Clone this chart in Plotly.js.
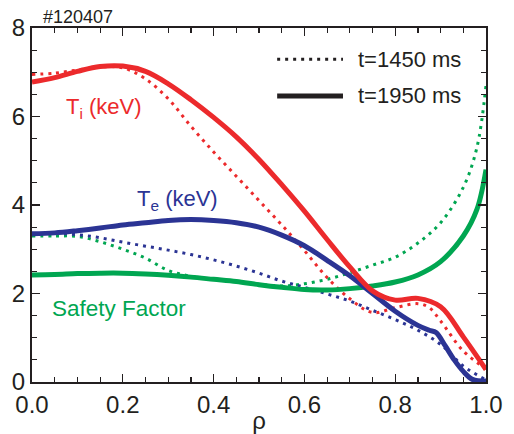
<!DOCTYPE html>
<html>
<head>
<meta charset="utf-8">
<script src="https://cdn.plot.ly/plotly-3.0.1.min.js"></script>
<style>html,body{margin:0;padding:0;background:#fff;}#chart{width:514px;height:434px;}</style>
</head>
<body>
<div id="chart"></div>
<script>
// rho grid and profiles
var rho = [0.00,0.05,0.10,0.15,0.20,0.25,0.30,0.35,0.40,0.45,0.50,0.55,0.60,0.65,0.70,0.75,0.80,0.85,0.90,0.95,1.00];

// Ti (keV)
var ti1950 = [6.78,6.88,7.02,7.13,7.14,7.02,6.74,6.38,5.98,5.54,5.03,4.46,3.86,3.22,2.6,2.06,1.85,1.89,1.7,1.02,0.28];
var tiRho1450 = [0.00,0.05,0.10,0.15,0.20,0.25,0.30,0.35,0.40,0.45,0.50,0.55,0.60,0.65,0.70,0.75,0.80,0.85,0.875,0.90,0.95,1.00];
var ti1450 = [6.95,6.98,7.05,7.12,7.1,6.85,6.4,5.78,5.2,4.65,4.1,3.55,2.97,2.36,1.88,1.57,1.68,1.77,1.68,1.38,0.7,0.3];

// Te (keV)
var teRho1950 = [0.00,0.05,0.10,0.15,0.20,0.25,0.30,0.35,0.40,0.45,0.50,0.55,0.60,0.65,0.70,0.75,0.80,0.85,0.875,0.89,0.91,0.93,0.95,0.97,1.00];
var te1950 = [3.35,3.37,3.42,3.48,3.55,3.6,3.65,3.67,3.65,3.6,3.5,3.32,3.08,2.75,2.4,2.0,1.6,1.28,1.17,1.12,0.82,0.5,0.24,0.06,0.02];
var te1450 = [3.35,3.36,3.33,3.26,3.16,3.07,2.98,2.88,2.76,2.62,2.46,2.28,2.14,1.99,1.83,1.62,1.41,1.17,0.85,0.36,0.05];

// Safety factor q
var qRho = [0.00,0.05,0.10,0.15,0.20,0.25,0.30,0.35,0.40,0.45,0.50,0.55,0.60,0.65,0.70,0.75,0.80,0.85,0.90,0.95,0.98,1.00];
var q1950 = [2.42,2.43,2.45,2.46,2.46,2.44,2.41,2.37,2.32,2.27,2.2,2.14,2.09,2.08,2.11,2.17,2.26,2.42,2.72,3.3,3.9,4.8];
var q1450 = [3.3,3.3,3.29,3.17,3.0,2.8,2.52,2.39,2.33,2.28,2.21,2.17,2.22,2.32,2.47,2.64,2.82,3.14,3.6,4.4,5.3,6.7];

var legendLabels = ["t=1450 ms", "t=1950 ms"];
var curveLabels = ["T<sub>i</sub> (keV)", "T<sub>e</sub> (keV)", "Safety Factor"];
var shotLabel = "#120407";

var RED = "#ec2a2c", BLUE = "#2b3494", GREEN = "#00a651", INK = "#231f20";
var DOT = "3px,5px";
var font = "Liberation Sans, Arial, Helvetica, sans-serif";

function tr(x, y, color, dotted) {
  return {x: x, y: y, type: "scatter", mode: "lines", showlegend: false, hoverinfo: "skip",
    line: {color: color, width: dotted ? 3 : 5, dash: dotted ? DOT : "solid", shape: "spline", smoothing: 1}};
}

var data = [
  tr(qRho, q1450, GREEN, true),
  tr(rho, te1450, BLUE, true),
  tr(tiRho1450, ti1450, RED, true),
  tr(qRho, q1950, GREEN, false),
  tr(teRho1950, te1950, BLUE, false),
  tr(rho, ti1950, RED, false)
];

var axisCommon = {
  showline: true, linecolor: INK, linewidth: 2, mirror: "ticks",
  ticks: "inside", ticklen: 8, tickwidth: 1.2, tickcolor: INK,
  showgrid: false, zeroline: false,
  tickfont: {family: font, size: 24, color: INK}
};

var layout = {
  width: 514, height: 434,
  margin: {l: 32, r: 28, t: 28, b: 52},
  paper_bgcolor: "#fff", plot_bgcolor: "#fff",
  font: {family: font, color: INK},
  xaxis: Object.assign({}, axisCommon, {
    range: [0, 1], dtick: 0.2, tick0: 0, tickformat: ".1f",
    minor: {dtick: 0.05, ticks: "inside", ticklen: 5, tickcolor: INK, tickwidth: 1.2},
    title: {text: "ρ", font: {family: font, size: 24, color: INK}, standoff: 0}
  }),
  yaxis: Object.assign({}, axisCommon, {
    range: [0, 8], dtick: 2, tick0: 0,
    minor: {dtick: 0.5, ticks: "inside", ticklen: 5, tickcolor: INK, tickwidth: 1.2}
  }),
  shapes: [
    {type: "line", xref: "paper", yref: "paper", x0: 0.54, x1: 0.685, y0: 0.912, y1: 0.912,
     line: {color: INK, width: 3, dash: DOT}},
    {type: "line", xref: "paper", yref: "paper", x0: 0.54, x1: 0.685, y0: 0.808, y1: 0.808,
     line: {color: INK, width: 5}}
  ],
  annotations: [
    {xref: "paper", yref: "paper", x: 0.714, y: 0.912, xanchor: "left", yanchor: "middle",
     text: legendLabels[0], showarrow: false, font: {family: font, size: 22, color: INK}},
    {xref: "paper", yref: "paper", x: 0.714, y: 0.808, xanchor: "left", yanchor: "middle",
     text: legendLabels[1], showarrow: false, font: {family: font, size: 22, color: INK}},
    {xref: "paper", yref: "paper", x: 0.02, y: 1.03, xanchor: "left", yanchor: "middle",
     text: shotLabel, showarrow: false, font: {family: font, size: 18, color: INK}},
    {xref: "x", yref: "y", x: 0.07, y: 6.2, xanchor: "left", yanchor: "middle",
     text: curveLabels[0], showarrow: false, font: {family: font, size: 22, color: RED}},
    {xref: "x", yref: "y", x: 0.226, y: 4.12, xanchor: "left", yanchor: "middle",
     text: curveLabels[1], showarrow: false, font: {family: font, size: 22, color: BLUE}},
    {xref: "x", yref: "y", x: 0.04, y: 1.67, xanchor: "left", yanchor: "middle",
     text: curveLabels[2], showarrow: false, font: {family: font, size: 22.5, color: GREEN}}
  ]
};

Plotly.newPlot("chart", data, layout, {staticPlot: true, displayModeBar: false});
</script>
</body>
</html>
